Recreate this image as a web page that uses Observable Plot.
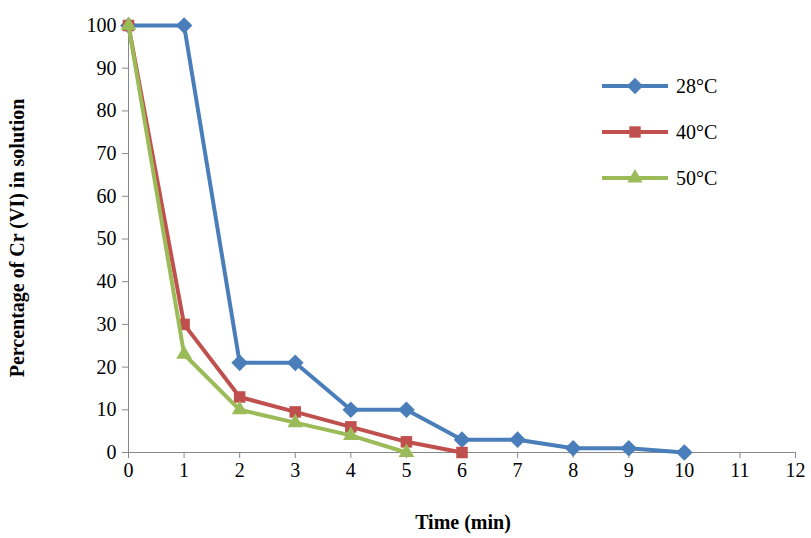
<!DOCTYPE html>
<html><head><meta charset="utf-8">
<script src="https://cdn.jsdelivr.net/npm/d3@7"></script>
<script src="https://cdn.jsdelivr.net/npm/@observablehq/plot@0.6"></script>
<style>
body{margin:0;background:#fff;font-family:"Liberation Serif",serif}
#wrap{position:relative;width:811px;height:538px}
#legend{position:absolute;left:600px;top:63px;font-size:20px}
#legend div{display:flex;align-items:center;height:46px}
#legend span{margin-left:6px}
</style></head><body>
<div id="wrap"><div id="chart"></div><div id="legend"></div></div>
<script>
const time28 = [0,1,2,3,4,5,6,7,8,9,10];
const val28  = [100,100,21,21,10,10,3,3,1,1,0];
const time40 = [0,1,2,3,4,5,6];
const val40  = [100,30,13,9.5,6,2.5,0];
const time50 = [0,1,2,3,4,5];
const val50  = [100,23,10,7,4,0];
const xTicks = [0,1,2,3,4,5,6,7,8,9,10,11,12];
const yTicks = [0,10,20,30,40,50,60,70,80,90,100];
const series = ["28°C","40°C","50°C"];
const colors = ["#4a7ebb","#c0504d","#9bbb59"];
const symbols = ["diamond2","square","triangle2"];

const data = [];
[[time28,val28],[time40,val40],[time50,val50]].forEach(([t,v],i)=>t.forEach((x,j)=>data.push({s:series[i],x,y:v[j]})));

const marks = [];
series.forEach((s,i)=>{
  const d = data.filter(r=>r.s===s);
  marks.push(Plot.line(d,{x:"x",y:"y",stroke:colors[i],strokeWidth:4}));
  marks.push(Plot.dot(d,{x:"x",y:"y",fill:colors[i],symbol:()=>symbols[i],r:i==1?6.5:7.5}));
});

const p = Plot.plot({
  width:811,height:538,marginLeft:128,marginRight:16,marginTop:25,marginBottom:86,
  style:{fontFamily:"Liberation Serif",fontSize:"20px",color:"#000"},
  x:{domain:[0,12],label:null},
  y:{domain:[0,100],label:null},
  marks:[
    Plot.ruleY([0],{stroke:"#888"}),
    Plot.ruleX([0],{stroke:"#888"}),
    Plot.axisX({ticks:xTicks,tickSize:6,tickPadding:4,stroke:"#888",fontSize:20,label:null}),
    Plot.axisY({ticks:yTicks,tickSize:6,tickPadding:6,stroke:"#888",fontSize:20,label:null}),
    ...marks
  ]
});
document.getElementById("chart").appendChild(p);
const svg = d3.select(p);
svg.append("text").attr("x",463).attr("y",529).attr("text-anchor","middle")
  .attr("font-weight","bold").attr("font-size",20).text("Time (min)");
svg.append("text").attr("transform","translate(24,238) rotate(-90)").attr("text-anchor","middle")
  .attr("font-weight","bold").attr("font-size",20).text("Percentage of Cr (VI) in solution");

const leg = d3.select("#legend");
series.forEach((s,i)=>{
  const row = leg.append("div");
  const sv = row.append("svg").attr("width",70).attr("height",24);
  sv.append("line").attr("x1",2).attr("x2",68).attr("y1",12).attr("y2",12).attr("stroke",colors[i]).attr("stroke-width",4);
  const sym = [d3.symbolDiamond2,d3.symbolSquare,d3.symbolTriangle2][i];
  sv.append("path").attr("d",d3.symbol(sym,i==1?130:170)()).attr("transform","translate(35,12)").attr("fill",colors[i]);
  row.append("span").text(s);
});
</script></body></html>
